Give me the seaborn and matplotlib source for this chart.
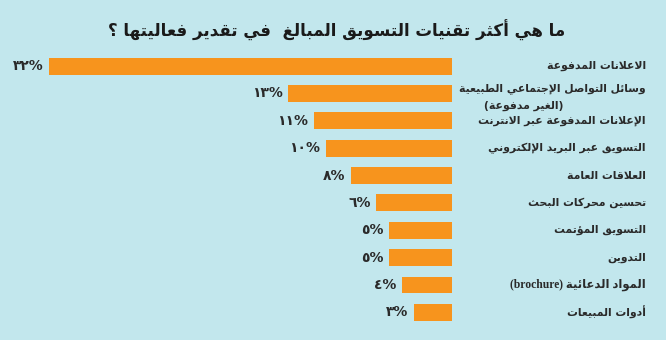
import re
import matplotlib
matplotlib.use("Agg")
import matplotlib.pyplot as plt
import matplotlib.transforms as mtransforms
import pandas as pd
import seaborn as sns

# ---- data -------------------------------------------------------------
title = "ما هي أكثر تقنيات التسويق المبالغ  في تقدير فعاليتها ؟"
categories = [
    "الاعلانات المدفوعة",
    "وسائل التواصل الإجتماعي الطبيعية\n(الغير مدفوعة)",
    "الإعلانات المدفوعة عبر الانترنت",
    "التسويق عبر البريد الإلكتروني",
    "العلاقات العامة",
    "تحسين محركات البحث",
    "التسويق المؤتمت",
    "التدوين",
    "المواد الدعائية (brochure)",
    "أدوات المبيعات",
]
values = [32, 13, 11, 10, 8, 6, 5, 5, 4, 3]
value_labels = ["٣٢%", "١٣%", "١١%", "١٠%", "٨%", "٦%", "٥%", "٥%", "٤%", "٣%"]

BG = "#c2e7ed"
BAR = "#f7941d"
TXT = "#2a2a2a"

# ---- minimal Arabic shaping + right-to-left ordering ---------------------
DUAL = {'ئ': 0xFE89, 'ب': 0xFE8F, 'ت': 0xFE95, 'ث': 0xFE99, 'ج': 0xFE9D,
        'ح': 0xFEA1, 'خ': 0xFEA5, 'س': 0xFEB1, 'ش': 0xFEB5, 'ص': 0xFEB9,
        'ض': 0xFEBD, 'ط': 0xFEC1, 'ظ': 0xFEC5, 'ع': 0xFEC9, 'غ': 0xFECD,
        'ف': 0xFED1, 'ق': 0xFED5, 'ك': 0xFED9, 'ل': 0xFEDD, 'م': 0xFEE1,
        'ن': 0xFEE5, 'ه': 0xFEE9, 'ي': 0xFEF1}
RIGHT = {'آ': 0xFE81, 'أ': 0xFE83, 'ؤ': 0xFE85, 'إ': 0xFE87, 'ا': 0xFE8D,
         'ة': 0xFE93, 'د': 0xFEA9, 'ذ': 0xFEAB, 'ر': 0xFEAD, 'ز': 0xFEAF,
         'و': 0xFEED, 'ى': 0xFEEF}
LAM_ALEF = {'آ': 0xFEF5, 'أ': 0xFEF7, 'إ': 0xFEF9, 'ا': 0xFEFB}
MIRROR = str.maketrans("()", ")(")


def shape(s):
    units = []
    i = 0
    while i < len(s):
        c = s[i]
        if c == 'ل' and i + 1 < len(s) and s[i + 1] in LAM_ALEF:
            units.append(('R', LAM_ALEF[s[i + 1]]))
            i += 2
            continue
        if c in DUAL:
            units.append(('D', DUAL[c]))
        elif c in RIGHT:
            units.append(('R', RIGHT[c]))
        else:
            units.append(('N', c))
        i += 1
    out = []
    for j, (kind, base) in enumerate(units):
        if kind == 'N':
            out.append(base)
            continue
        prev_joins = j > 0 and units[j - 1][0] == 'D'
        next_joins = kind == 'D' and j + 1 < len(units) and units[j + 1][0] in 'DR'
        if prev_joins and next_joins:
            off = 3
        elif prev_joins:
            off = 1
        elif next_joins:
            off = 2
        else:
            off = 0
        out.append(chr(base + off))
    return ''.join(out)


def rtl(s):
    lines = []
    for line in s.split("\n"):
        shaped = shape(line)
        runs = re.findall(r'[A-Za-z0-9]+|[^A-Za-z0-9]+', shaped)
        vis = []
        for r in reversed(runs):
            if re.fullmatch(r'[A-Za-z0-9]+', r):
                vis.append(r)
            else:
                vis.append(r[::-1].translate(MIRROR))
        lines.append(''.join(vis))
    return lines


# ---- figure -------------------------------------------------------------
sns.set_theme(style="white")
plt.rcParams['font.family'] = ['DejaVu Sans']

fig = plt.figure(figsize=(6.66, 3.4), dpi=100)
fig.patch.set_facecolor(BG)
ax = fig.add_axes([0.0, 0.041, 452 / 666, 0.805])
ax.set_facecolor("none")

df = pd.DataFrame({"category": categories, "value": values})
sns.barplot(data=df, x="value", y="category", orient="h", color=BAR,
            saturation=1, width=0.62, linewidth=0, edgecolor="none", ax=ax)
ax.set_xlim(35.9, 0)
ax.set_ylim(len(categories) - 0.5, -0.5)
ax.axis("off")

# percentage labels just beyond the end of each bar
for i, (v, lab) in enumerate(zip(values, value_labels)):
    ax.text(v + 0.45, i, lab, ha="right", va="center", fontsize=10,
            fontweight="bold", color=TXT)

# category names on the right, right-aligned
trans = mtransforms.blended_transform_factory(fig.transFigure, ax.transData)
LABEL_FS = 7.8
for i, cat in enumerate(categories):
    lines = rtl(cat)
    brochure = 'brochure' in cat
    fam = ['Liberation Serif', 'DejaVu Sans'] if brochure else ['DejaVu Sans']
    if len(lines) == 1:
        ax.text(646 / 666, i, lines[0], transform=trans, ha="right", va="center",
                fontsize=LABEL_FS + (0.6 if brochure else 0), fontweight="bold",
                color=TXT, family=fam)
    else:
        ax.text(646 / 666, i - 0.16, lines[0], transform=trans, ha="right",
                va="center", fontsize=LABEL_FS, fontweight="bold", color=TXT, family=fam)
        ax.text(563 / 666, i + 0.46, lines[1], transform=trans, ha="right",
                va="center", fontsize=LABEL_FS, fontweight="bold", color=TXT, family=fam)

fig.text(337 / 666, 1 - 30 / 340, rtl(title)[0], ha="center", va="center",
         fontsize=12, fontweight="bold", color="#1a1a1a")

fig.savefig("out.png", dpi=100, facecolor=BG)
